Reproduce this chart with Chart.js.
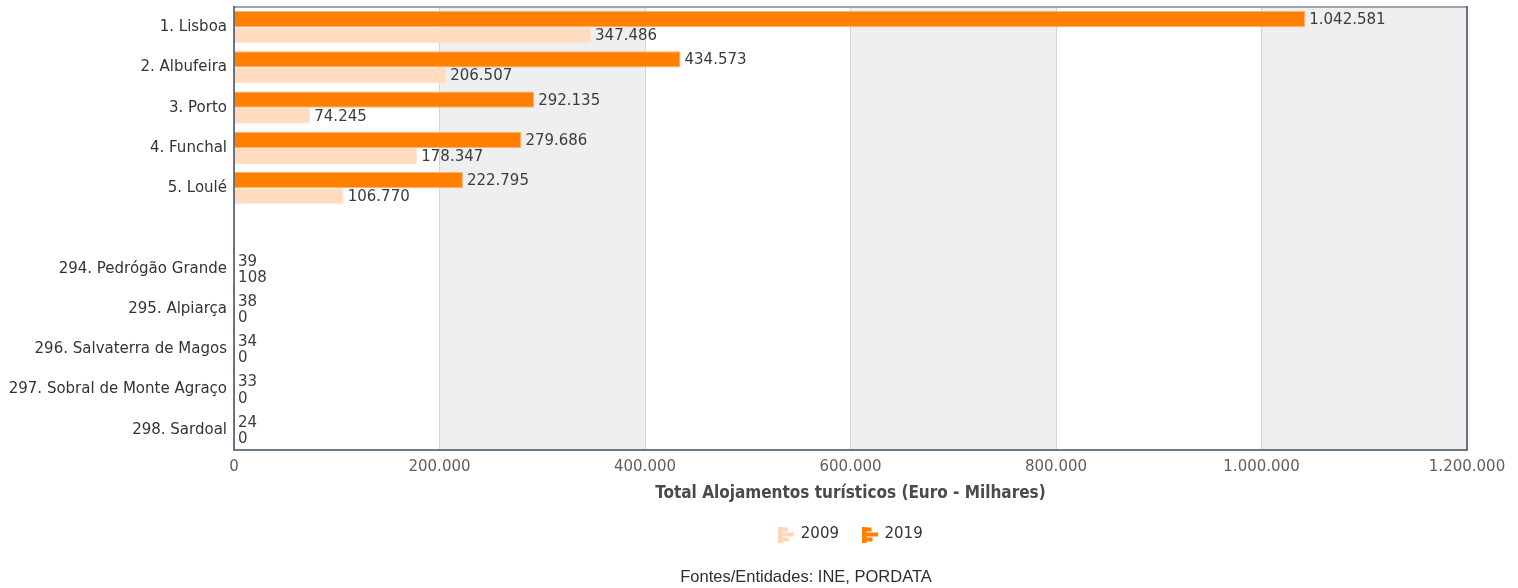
<!DOCTYPE html>
<html>
<head>
<meta charset="utf-8">
<title>Total Alojamentos turísticos</title>
<script src="https://cdn.jsdelivr.net/npm/chart.js@4.4.0/dist/chart.umd.min.js"></script>
<style>
  html, body { margin: 0; padding: 0; background: #ffffff; }
  #wrap { width: 1518px; height: 588px; }
</style>
</head>
<body>
<div id="wrap"><canvas id="chart" width="1518" height="588"></canvas></div>
<script>
// Municípios (top 5 and bottom 5), with an empty spacer row between the groups
const categories = [
  '1. Lisboa', '2. Albufeira', '3. Porto', '4. Funchal', '5. Loulé',
  '',
  '294. Pedrógão Grande', '295. Alpiarça', '296. Salvaterra de Magos',
  '297. Sobral de Monte Agraço', '298. Sardoal'
];
const values2019 = [1042581, 434573, 292135, 279686, 222795, null, 39, 38, 34, 33, 24];
const values2009 = [347486, 206507, 74245, 178347, 106770, null, 108, 0, 0, 0, 0];
const xTickValues = [0, 200000, 400000, 600000, 800000, 1000000, 1200000];
const seriesNames = ['2019', '2009'];
const sourceText = 'Fontes/Entidades: INE, PORDATA';
const axisTitle = 'Total Alojamentos turísticos (Euro - Milhares)';

const ORANGE = '#ff8000';
const PEACH = '#ffdcc0';
const FONT = "'DejaVu Sans', Verdana, sans-serif";

// Portuguese style thousands separator
function fmt(v) {
  return String(v).replace(/\B(?=(\d{3})+(?!\d))/g, '.');
}

// Small bar-chart glyph used as legend marker
function legendIcon(color) {
  const c = document.createElement('canvas');
  c.width = 16; c.height = 16;
  const g = c.getContext('2d');
  g.fillStyle = color;
  g.fillRect(0, 0, 5, 16);
  g.fillRect(5, 1, 5, 4);
  g.fillRect(5, 6, 11, 4);
  g.fillRect(5, 11, 6, 4);
  return c;
}

// Alternating vertical bands behind the grid
const bandsPlugin = {
  id: 'bands',
  beforeDraw(chart) {
    const { ctx, chartArea: a, scales: { x } } = chart;
    ctx.save();
    ctx.fillStyle = '#efefef';
    for (let i = 1; i < xTickValues.length; i += 2) {
      const x0 = x.getPixelForValue(xTickValues[i]);
      const x1 = x.getPixelForValue(xTickValues[i + 1] !== undefined ? xTickValues[i + 1] : x.max);
      ctx.fillRect(x0, a.top, x1 - x0, a.bottom - a.top);
    }
    ctx.restore();
  }
};

// Frame around the plot area
const framePlugin = {
  id: 'frame',
  afterDraw(chart) {
    const { ctx, chartArea: a } = chart;
    ctx.save();
    ctx.lineWidth = 2;
    ctx.strokeStyle = '#97a6b4';
    ctx.beginPath();
    ctx.moveTo(a.left, a.top);
    ctx.lineTo(a.right, a.top);
    ctx.stroke();
    ctx.lineWidth = 1.5;
    ctx.strokeStyle = '#3e4f61';
    ctx.beginPath();
    ctx.moveTo(a.left, a.top - 1);
    ctx.lineTo(a.left, a.bottom);
    ctx.lineTo(a.right, a.bottom);
    ctx.lineTo(a.right, a.top - 1);
    ctx.stroke();
    ctx.restore();
  }
};

// Value labels at the end of each bar
const valueLabelsPlugin = {
  id: 'valueLabels',
  afterDatasetsDraw(chart) {
    const { ctx } = chart;
    ctx.save();
    ctx.font = '15px ' + FONT;
    ctx.fillStyle = '#3c3c3c';
    ctx.textAlign = 'left';
    ctx.textBaseline = 'middle';
    chart.data.datasets.forEach((ds, di) => {
      const meta = chart.getDatasetMeta(di);
      meta.data.forEach((bar, i) => {
        const v = ds.data[i];
        if (v === null || v === undefined) return;
        ctx.fillText(fmt(v), bar.x + 4, bar.y + 1);
      });
    });
    ctx.restore();
  }
};

// Source line under the legend
const sourcePlugin = {
  id: 'sourceLine',
  afterDraw(chart) {
    const { ctx } = chart;
    ctx.save();
    ctx.font = "16.5px 'Liberation Sans', Arial, sans-serif";
    ctx.fillStyle = '#2e2e2e';
    ctx.textAlign = 'center';
    ctx.textBaseline = 'middle';
    ctx.fillText(sourceText, 806, 577);
    ctx.restore();
  }
};

new Chart(document.getElementById('chart'), {
  type: 'bar',
  data: {
    labels: categories,
    datasets: [
      {
        label: seriesNames[0],
        data: values2019,
        backgroundColor: ORANGE,
        borderColor: '#ffb070',
        borderWidth: 1,
        pointStyle: legendIcon(ORANGE)
      },
      {
        label: seriesNames[1],
        data: values2009,
        backgroundColor: PEACH,
        borderColor: '#ffe6d2',
        borderWidth: 1,
        pointStyle: legendIcon('#ffd6b8')
      }
    ]
  },
  options: {
    indexAxis: 'y',
    responsive: false,
    animation: false,
    maintainAspectRatio: false,
    layout: { padding: { left: 0, right: 51, top: 7, bottom: 36 } },
    datasets: { bar: { categoryPercentage: 0.8, barPercentage: 1.0 } },
    scales: {
      x: {
        type: 'linear',
        min: 0,
        max: 1200000,
        afterBuildTicks(scale) {
          scale.ticks = xTickValues.map(v => ({ value: v }));
        },
        afterFit(scale) { scale.height = 54; },
        grid: { color: '#d6d6d6', lineWidth: 1, drawTicks: false },
        border: { display: false },
        ticks: {
          padding: 8,
          color: '#606060',
          font: { family: FONT, size: 15 },
          maxRotation: 0,
          callback: v => fmt(v)
        },
        title: {
          display: true,
          text: axisTitle,
          color: '#4a4a4a',
          font: { family: "'DejaVu Sans Condensed', 'DejaVu Sans', sans-serif", size: 17, weight: 'bold' },
          padding: { top: 4, bottom: 0 }
        }
      },
      y: {
        type: 'category',
        afterFit(scale) {
          scale.width = 234;
          scale.paddingTop = 0;
          scale.paddingBottom = 0;
        },
        grid: { display: false, drawTicks: false },
        border: { display: false },
        ticks: {
          padding: 7,
          color: '#333333',
          autoSkip: false,
          font: { family: FONT, size: 15 }
        }
      }
    },
    plugins: {
      legend: {
        position: 'bottom',
        fullSize: false,
        labels: {
          usePointStyle: true,
          padding: 23,
          color: '#333333',
          font: { family: FONT, size: 15 },
          sort: (a, b) => b.datasetIndex - a.datasetIndex
        }
      },
      title: { display: false },
      tooltip: { enabled: false }
    }
  },
  plugins: [bandsPlugin, framePlugin, valueLabelsPlugin, sourcePlugin]
});
</script>
</body>
</html>
